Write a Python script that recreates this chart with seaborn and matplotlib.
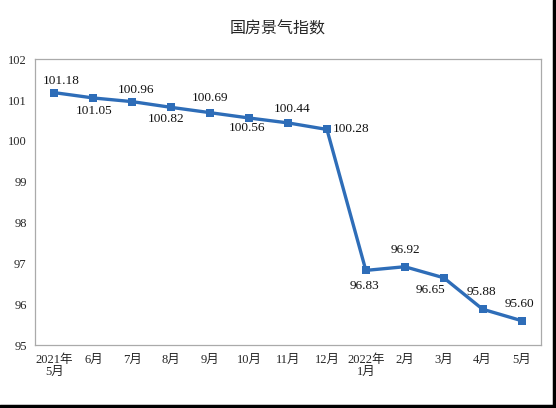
import numpy as np
import pandas as pd
import seaborn as sns
import matplotlib.pyplot as plt
from matplotlib.lines import Line2D

# 国房景气指数 data
months = ['2021年\n5月', '6月', '7月', '8月', '9月', '10月', '11月', '12月',
          '2022年\n1月', '2月', '3月', '4月', '5月']
index_values = [101.18, 101.05, 100.96, 100.82, 100.69, 100.56, 100.44, 100.28,
                96.83, 96.92, 96.65, 95.88, 95.60]

df = pd.DataFrame({'pos': np.arange(len(months)), 'value': index_values})

sns.set_style('white')
plt.rcParams['font.family'] = ['Liberation Serif', 'Noto Sans CJK SC', 'DejaVu Sans']

fig = plt.figure(figsize=(5.56, 4.08), dpi=100)
ax = fig.add_axes([0.063, 0.154, 0.910, 0.701])

line_color = '#2E6DB8'
sns.lineplot(data=df, x='pos', y='value', ax=ax, color=line_color, linewidth=2.4,
             marker='s', markersize=5.5, markeredgewidth=0)

# label offsets in pixels (dx, dy, ha)
offsets = [(7, 12, 'center'), (1, -13, 'center'), (4, 12, 'center'), (-5, -12, 'center'),
           (0, 15, 'center'), (-2, -10, 'center'), (4, 14, 'center'), (6, 0, 'left'),
           (-1, -16, 'center'), (1, 17, 'center'), (-13, -12, 'center'), (-1, 17, 'center'),
           (-2, 17, 'center')]
for i, v in enumerate(index_values):
    dx, dy, ha = offsets[i]
    ax.annotate(f'{v:.2f}', (i, v), xytext=(dx, dy), textcoords='offset pixels',
                ha=ha, va='center', fontsize=9.5, color='#111111')

ax.set_xlim(-0.5, len(months) - 0.5)
ax.set_ylim(95, 102)
ax.set_yticks(range(95, 103))
ax.set_xticks(df['pos'])
ax.set_xticklabels(months, fontsize=9, linespacing=1.1)
ax.set_xticks(np.arange(0.5, len(months) - 0.5, 1), minor=True)
ax.tick_params(axis='x', which='major', length=0, pad=6)
ax.tick_params(axis='x', which='minor', direction='in', length=4, color='#999999', width=0.8)
ax.tick_params(axis='y', direction='in', length=3, color='#999999', labelsize=9, pad=6)
ax.set_xlabel('')
ax.set_ylabel('')
for s in ax.spines.values():
    s.set_color('#AAAAAA')
    s.set_linewidth(0.9)

fig.text(0.5, 0.93, '国房景气指数', ha='center', va='center', fontsize=11.5,
         family=['Noto Sans CJK SC', 'DejaVu Sans'])

# dark frame edge on right and bottom of the image
fig.add_artist(Line2D([0.997, 0.997], [0.0, 1.0], transform=fig.transFigure,
                      color='black', linewidth=2.5))
fig.add_artist(Line2D([0.0, 1.0], [0.004, 0.004], transform=fig.transFigure,
                      color='black', linewidth=2.5))

fig.savefig('out.png', dpi=100)
